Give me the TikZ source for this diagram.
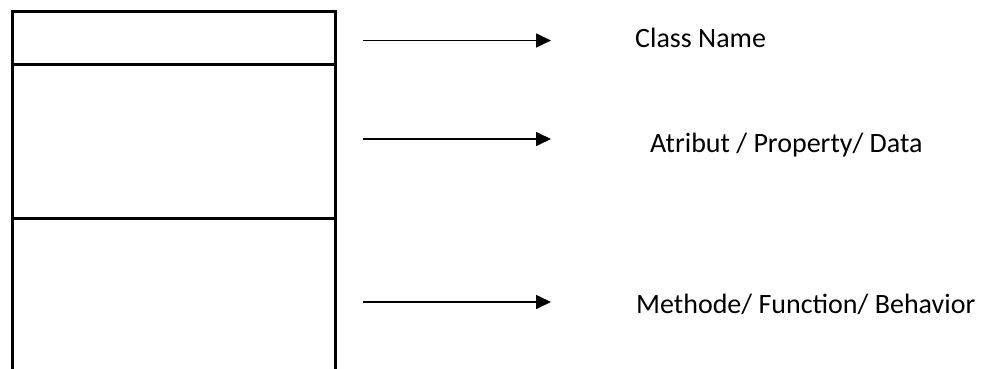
\documentclass[tikz,border=0pt]{standalone}
\usepackage{fontspec}
\setmainfont{Carlito}
\usetikzlibrary{arrows.meta}
\begin{document}
\begin{tikzpicture}[x=1pt,y=-1pt,
  boxline/.style={line width=3pt},
  pointer/.style={line width=1.7pt,-{Triangle[length=15pt,width=14pt]}},
  caption/.style={anchor=base west,inner sep=0pt,font=\fontsize{28}{32}\selectfont}]
  \useasboundingbox (0,0) rectangle (990,369);
  % class box, open at the bottom
  \coordinate (tl) at (12.5,11.5);
  \coordinate (tr) at (335.5,11.5);
  \coordinate (bl) at (12.5,369);
  \coordinate (br) at (335.5,369);
  \coordinate (d1l) at (12.5,64.5);
  \coordinate (d1r) at (335.5,64.5);
  \coordinate (d2l) at (12.5,218);
  \coordinate (d2r) at (335.5,218);
  \draw[boxline] (bl) -- (tl) -- (tr) -- (br);
  \draw[boxline] (d1l) -- (d1r);
  \draw[boxline] (d2l) -- (d2r);
  % arrows
  \coordinate (a1s) at (363,40.5);
  \coordinate (a1e) at (551,40.5);
  \coordinate (a2s) at (363,139);
  \coordinate (a2e) at (551,139);
  \coordinate (a3s) at (363,302);
  \coordinate (a3e) at (551,302);
  \draw[pointer] (a1s) -- (a1e);
  \draw[pointer] (a2s) -- (a2e);
  \draw[pointer] (a3s) -- (a3e);
  % labels
  \node[caption] (l1) at (635,48) {Class Name};
  \node[caption] (l2) at (650,152) {Atribut / Property/ Data};
  \node[caption] (l3) at (636,313) {Methode/ Function/ Behavior};
\end{tikzpicture}
\end{document}
